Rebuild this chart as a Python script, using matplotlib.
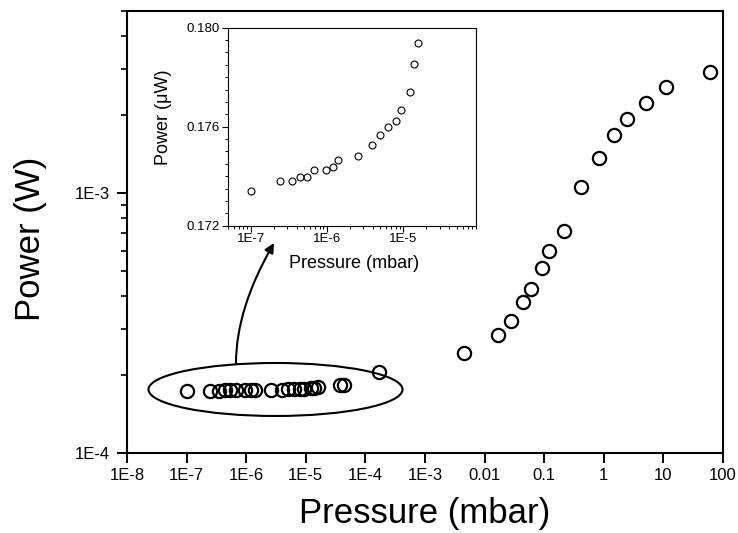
import numpy as np
import matplotlib.pyplot as plt
from matplotlib.patches import Ellipse
from matplotlib.ticker import FixedLocator, FixedFormatter, LogLocator, NullFormatter, MultipleLocator

plt.rcParams['font.family'] = ['Liberation Sans', 'DejaVu Sans']

# Low pressure points (shown in the inset, power in the inset's units)
low_pressure = [1.0e-7, 2.43e-7, 3.45e-7, 4.43e-7, 5.43e-7, 6.78e-7, 9.6e-7, 1.19e-6,
                1.40e-6, 2.58e-6, 3.94e-6, 4.98e-6, 6.40e-6, 8.07e-6, 9.46e-6,
                1.24e-5, 1.39e-5, 1.58e-5]
low_power = [0.17340, 0.17382, 0.17382, 0.17397, 0.17397, 0.17425, 0.17425, 0.17439,
             0.17467, 0.17483, 0.17525, 0.17566, 0.17598, 0.17624, 0.17667,
             0.17740, 0.17855, 0.17940]

# Higher pressure points (main plot only, W)
high_pressure = [3.75e-5, 4.4e-5, 1.71e-4, 4.56e-3, 0.0170, 0.0274, 0.0446, 0.0594,
                 0.0908, 0.122, 0.215, 0.419, 0.821, 1.50, 2.42, 5.11, 10.9, 60.5]
high_power = [1.82e-4, 1.83e-4, 2.05e-4, 2.42e-4, 2.84e-4, 3.23e-4, 3.82e-4, 4.27e-4,
              5.13e-4, 6.0e-4, 7.16e-4, 1.057e-3, 1.36e-3, 1.67e-3, 1.93e-3,
              2.21e-3, 2.56e-3, 2.91e-3]

x_ticks = [1e-8, 1e-7, 1e-6, 1e-5, 1e-4, 1e-3, 1e-2, 1e-1, 1, 10, 100]
x_labels = ['1E-8', '1E-7', '1E-6', '1E-5', '1E-4', '1E-3', '0.01', '0.1', '1', '10', '100']
y_ticks = [1e-4, 1e-3]
y_labels = ['1E-4', '1E-3']

inset_x_ticks = [1e-7, 1e-6, 1e-5]
inset_x_labels = ['1E-7', '1E-6', '1E-5']
inset_y_ticks = [0.172, 0.176, 0.180]
inset_y_labels = ['0.172', '0.176', '0.180']

main_pressure = low_pressure + high_pressure
main_power = [p * 1e-3 for p in low_power] + high_power

W, H = 738, 533
fig = plt.figure(figsize=(W / 100, H / 100), dpi=100)

# main axes
ax = fig.add_axes([127 / W, 80 / H, 596 / W, 442 / H])
ax.plot(main_pressure, main_power, 'o', mfc='none', mec='black', ms=9.5, mew=1.6)
ax.set_xscale('log')
ax.set_yscale('log')
ax.set_xlim(1e-8, 100)
ax.set_ylim(1e-4, 5e-3)
ax.xaxis.set_major_locator(FixedLocator(x_ticks))
ax.xaxis.set_major_formatter(FixedFormatter(x_labels))
ax.xaxis.set_minor_locator(LogLocator(base=10, subs=np.arange(2, 10)))
ax.xaxis.set_minor_formatter(NullFormatter())
ax.yaxis.set_major_locator(FixedLocator(y_ticks))
ax.yaxis.set_major_formatter(FixedFormatter(y_labels))
ax.yaxis.set_minor_locator(LogLocator(base=10, subs=np.arange(2, 10)))
ax.yaxis.set_minor_formatter(NullFormatter())
ax.tick_params(which='major', direction='out', length=7, width=1.4, labelsize=12)
ax.tick_params(axis='x', which='major', pad=4)
ax.tick_params(axis='y', which='major', pad=5)
ax.tick_params(which='minor', direction='out', length=4, width=1.2)
for s in ax.spines.values():
    s.set_linewidth(1.5)
ax.set_xlabel('Pressure (mbar)', fontsize=25)
ax.set_ylabel('Power (W)', fontsize=25)
ax.xaxis.set_label_coords(0.5, -0.099)
ax.yaxis.set_label_coords(-0.135, 0.485)

# ellipse around the low pressure points and arrow to the inset
ax.add_patch(Ellipse((0.2492, 0.1437), 0.4262, 0.1199, transform=ax.transAxes,
                     fill=False, ec='black', lw=1.5))
ax.annotate('', xy=(274, H - 243), xycoords='figure pixels',
            xytext=(236, H - 363), textcoords='figure pixels',
            arrowprops=dict(arrowstyle='-|>', connectionstyle='angle3,angleA=90,angleB=60',
                            color='black', lw=1.5, mutation_scale=14, shrinkA=0, shrinkB=0))

# inset
ins = fig.add_axes([227.7 / W, (H - 225.7) / H, 248.3 / W, 198 / H])
ins.plot(low_pressure, low_power, 'o', mfc='none', mec='black', ms=5, mew=0.8)
ins.set_xscale('log')
ins.set_xlim(5e-8, 9e-5)
ins.set_ylim(0.172, 0.180)
ins.xaxis.set_major_locator(FixedLocator(inset_x_ticks))
ins.xaxis.set_major_formatter(FixedFormatter(inset_x_labels))
ins.xaxis.set_minor_locator(LogLocator(base=10, subs=np.arange(2, 10)))
ins.xaxis.set_minor_formatter(NullFormatter())
ins.yaxis.set_major_locator(FixedLocator(inset_y_ticks))
ins.yaxis.set_major_formatter(FixedFormatter(inset_y_labels))
ins.yaxis.set_minor_locator(MultipleLocator(0.0005))
ins.tick_params(which='major', direction='out', length=4, width=0.8, labelsize=9.5, pad=1.5)
ins.tick_params(which='minor', direction='out', length=2.5, width=0.7)
for s in ins.spines.values():
    s.set_linewidth(0.8)
ins.set_xlabel('Pressure (mbar)', fontsize=13)
ins.set_ylabel('Power (\u03bcW)', fontsize=13)
ins.xaxis.set_label_coords(0.509, -0.15)
ins.yaxis.set_label_coords(-0.224, 0.55)

fig.savefig('out.png', dpi=100)
